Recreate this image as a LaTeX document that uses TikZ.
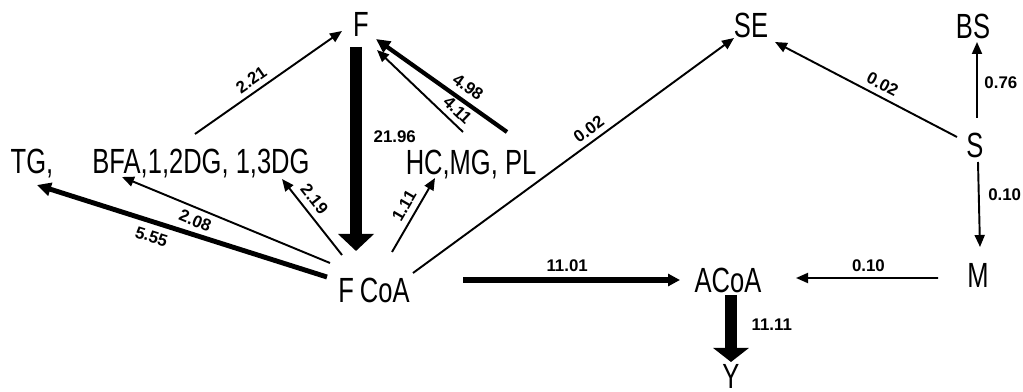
\documentclass[tikz,border=0pt]{standalone}
\usepackage{fontspec}
\setmainfont{Liberation Sans}
\newfontfamily\metfont[FakeStretch=0.73]{Liberation Sans}
\usepackage{tikz}
\usetikzlibrary{arrows.meta,positioning}

\begin{document}
\begin{tikzpicture}[
  >=Latex,
  met/.style={font=\metfont\fontsize{19.9pt}{20pt}\selectfont, inner sep=0pt, text height=0.5cm, text depth=0pt},
  flux/.style={font=\fontsize{9.6pt}{10pt}\selectfont\bfseries, inner sep=2pt},
  arr/.style={-{Triangle[length=2.4mm, width=2mm]}, line width=1.1pt},
  arrw/.style={-{Triangle[length=2.8mm, width=2.6mm]}, line width=2.4pt},
  bar/.style={-{Triangle[length=3.4mm, width=7mm]}, line width=6.4pt}]
  \useasboundingbox (0,0) rectangle (20.46,7.82);
  \clip (0,0) rectangle (20.46,7.82);
  % --- pools ---
  \node[met] (F)    at (7.22,7.34)  {F};
  \node[met] (SE)   at (15.02,7.32) {SE};
  \node[met] (BS)   at (19.46,7.30) {BS};
  \node[met] (TG)   at (0.64,4.60)  {TG,};
  \node[met] (BFA)  at (4.02,4.60)  {BFA,1,2DG, 1,3DG};
  \node[met] (HC)   at (9.42,4.58)  {HC,MG, PL};
  \node[met] (S)    at (19.50,4.92) {S};
  \node[met] (FCoA) at (7.48,2.02)  {F\,CoA};
  \node[met] (ACoA) at (14.56,2.22) {ACoA};
  \node[met] (M)    at (19.56,2.32) {M};
  \node[met] (Y)    at (14.62,0.30) {Y};
  % --- fluxes into F ---
  \draw[arr] ([shift={(-0.12,0.54)}]BFA.center) -- node[flux, sloped, above=1pt, pos=0.43] {2.21} ([shift={(-0.38,-0.14)}]F.center);
  \draw[arrw] ([shift={(0.72,0.60)}]HC.center) -- node[flux, sloped, above=1.5pt, pos=0.36] {4.98} ([shift={(0.30,-0.30)}]F.center);
  \draw[arr] ([shift={(-0.16,0.60)}]HC.center) -- node[flux, sloped, above=1pt, pos=0.16] {4.11} ([shift={(0.32,-0.52)}]F.center);
  \draw[bar] ([shift={(-0.10,-0.46)}]F.center) -- node[flux, right=0.17cm, pos=0.44] {21.96} ([shift={(-0.36,0.78)}]FCoA.center);
  % --- fluxes out of FCoA ---
  \draw[arrw, line width=2.8pt] ([shift={(-0.94,0.26)}]FCoA.center) -- node[flux, sloped, below=1.5pt, pos=0.59] {5.55} ([shift={(0.10,-0.48)}]TG.center);
  \draw[arr] ([shift={(-0.88,0.54)}]FCoA.center) -- node[flux, sloped, below=1pt, pos=0.625] {2.08} ([shift={(-1.58,-0.32)}]BFA.center);
  \draw[arr] ([shift={(-0.64,0.70)}]FCoA.center) -- node[flux, sloped, above=1.5pt, pos=0.63] {2.19} ([shift={(1.62,-0.36)}]BFA.center);
  \draw[arr] ([shift={(0.36,0.76)}]FCoA.center) -- node[flux, sloped, above=1.5pt, pos=0.54] {1.11} ([shift={(-0.72,-0.32)}]HC.center);
  \draw[arr] ([shift={(0.78,0.34)}]FCoA.center) -- node[flux, sloped, above=1pt, pos=0.57] {0.02} ([shift={(-0.34,-0.26)}]SE.center);
  \draw[-{Triangle[length=2.4mm, width=2.4mm]}, line width=3pt] ([shift={(1.78,0.20)}]FCoA.center) -- node[flux, above=1.5pt, pos=0.48] {11.01} ([shift={(-0.96,0)}]ACoA.center);
  % --- S and M side ---
  \draw[arr] ([shift={(-0.36,0.16)}]S.center) -- node[flux, sloped, above=1pt, pos=0.44] {0.02} ([shift={(0.48,-0.34)}]SE.center);
  \draw[arr] ([shift={(0.04,0.54)}]S.center) -- node[flux, right=0.06cm, pos=0.47] {0.76} ([shift={(0.08,-0.32)}]BS.center);
  \draw[arr] ([shift={(0.06,-0.34)}]S.center) -- node[flux, right=0.10cm, pos=0.39] {0.10} ([shift={(0.04,0.56)}]M.center);
  \draw[arr] ([shift={(-0.80,-0.06)}]M.center) -- node[flux, above=1pt, pos=0.49] {0.10} ([shift={(1.36,0.04)}]ACoA.center);
  \draw[bar, -{Triangle[length=2.8mm, width=7mm]}] ([shift={(0.06,-0.30)}]ACoA.center) -- node[flux, right=0.23cm, pos=0.45] {11.11} ([shift={(0,0.28)}]Y.center);
\end{tikzpicture}
\end{document}
